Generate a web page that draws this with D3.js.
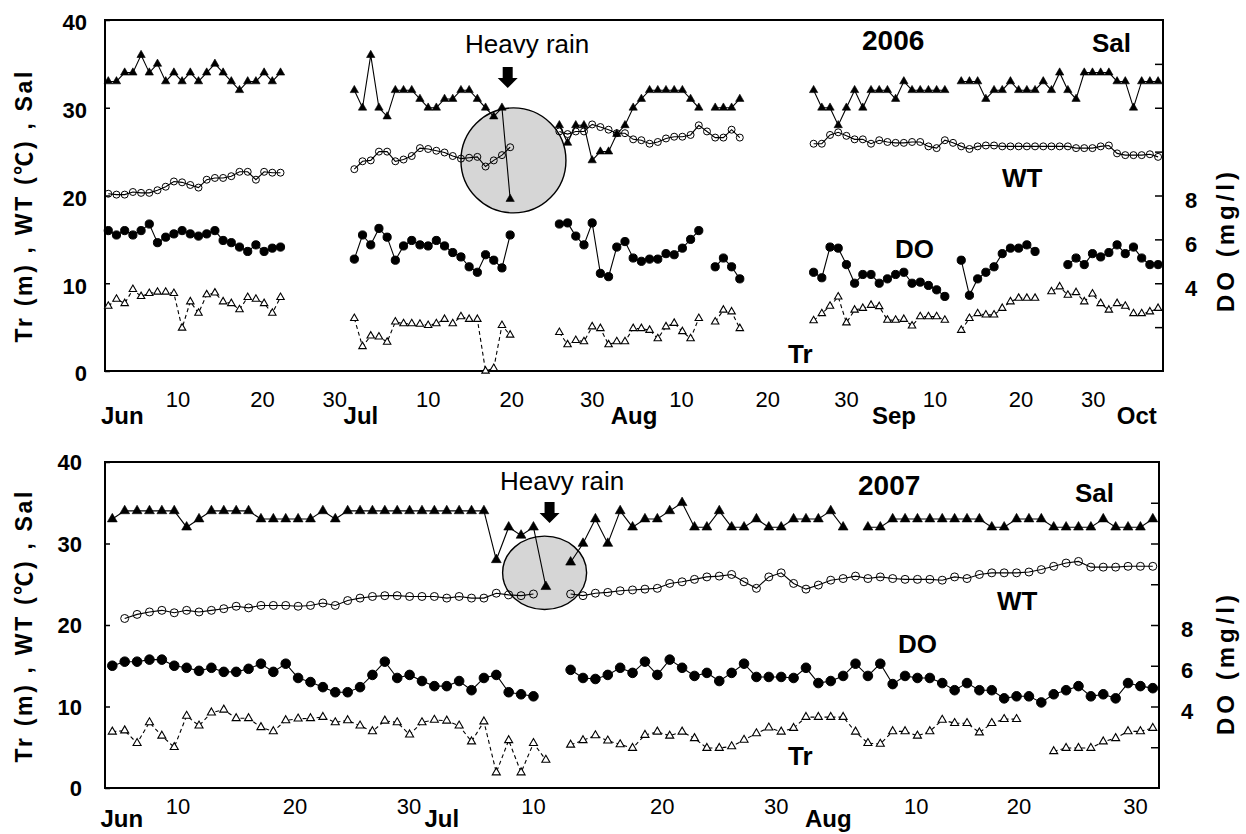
<!DOCTYPE html>
<html>
<head>
<meta charset="utf-8">
<script src="https://cdn.jsdelivr.net/npm/d3@7"></script>
<style>
  body { margin: 0; background: #fff; }
  svg { display: block; }
  text { font-family: "Liberation Sans", Arial, "Noto Sans CJK JP", sans-serif; fill: #000; }
</style>
</head>
<body>
<svg id="chart" width="1246" height="834"></svg>
<script>
// ---------- 2006 season: day index 0 = 1 June ----------
const sal2006 = [
  {from: 0,   values: [33,33,34,34,36,34,35,33,34,33,34,33,34,35,34,33,32,33,33,34,33,34]},
  {from: 30,  values: [32,30,36,30,29,32,32,32,31,30,30,31,31,32,32,31,30,29,30,19.6]},
  {from: 55,  values: [28,26,28,28,24,25,25,27,28,30,31,32,32,32,32,32,31,30]},
  {from: 74,  values: [30,30,30,31]},
  {from: 86,  values: [32,30,30,28,30,32,30,32,32,32,31,33,32,32,32,32,32]},
  {from: 104, values: [33,33,33,31,32,32,33,32,32,32,33,32,34,32,31,34,34,34,34,33,33,30,33,33,33]}
];
const wt2006 = [
  {from: 0,  values: [20.2,20.1,20.1,20.4,20.3,20.3,20.6,21.0,21.6,21.5,21.2,20.9,21.8,22.0,22.0,22.2,22.7,22.7,21.8,22.7,22.6,22.6]},
  {from: 30, values: [23.0,23.9,24.0,25.0,25.0,23.9,24.1,24.5,25.4,25.3,25.1,24.9,24.5,24.2,24.3,24.4,23.3,24.0,24.6,25.5]},
  {from: 55, values: [27.3,27.0,27.3,27.3,28.1,27.8,27.5,27.1,27.1,26.4,26.3,25.9,26.1,26.5,26.7,26.7,26.9,28.0,27.3,26.6,26.6,27.5,26.6]},
  {from: 86, values: [25.9,25.9,26.9,27.2,26.8,26.4,26.4,25.9,26.3,26.1,26.0,26.0,26.1,26.1,25.6,25.4,26.3,26.0,25.6,25.3,25.6,25.7,25.7,25.6,25.6,25.6,25.6,25.6,25.6,25.6,25.6,25.6,25.4,25.4,25.4,25.6,25.7,24.8,24.6,24.6,24.6,24.7,24.4]}
];
const do2006 = [
  {from: 0,   values: [6.4,6.2,6.4,6.2,6.4,6.7,5.85,6.1,6.25,6.4,6.25,6.15,6.25,6.4,5.95,5.85,5.65,5.45,5.75,5.45,5.6,5.65]},
  {from: 30,  values: [5.1,6.2,5.75,6.5,6.1,5.05,5.7,5.95,5.75,5.7,5.95,5.7,5.4,5.2,4.75,4.5,5.3,5.05,4.7,6.2]},
  {from: 55,  values: [6.7,6.75,6.15,5.75,6.75,4.45,4.3,5.65,5.9,5.15,5.0,5.1,5.1,5.35,5.3,5.6,6.0,6.4]},
  {from: 74,  values: [4.75,5.15,4.75,4.2]},
  {from: 86,  values: [4.5,4.25,5.65,5.6,4.85,4.0,4.4,4.4,4.0,4.2,4.4,4.5,4.0,4.05,3.9,3.7,3.4]},
  {from: 104, values: [5.05,3.45,4.2,4.5,4.75,5.35,5.6,5.6,5.75,5.45]},
  {from: 117, values: [4.85,5.15,4.85,5.35,5.2,5.4,5.75,5.35,5.65,5.15,4.85,4.85]}
];
const tr2006 = [
  {from: 0,   values: [7.4,8.2,7.7,9.3,8.5,8.85,9.0,9.0,8.85,4.9,7.9,6.6,8.7,8.9,7.9,7.7,7.0,8.4,8.2,7.7,6.6,8.4]},
  {from: 30,  values: [6.0,2.8,4.0,3.9,3.3,5.6,5.4,5.4,5.35,5.2,5.4,5.9,5.4,6.2,5.9,5.9,0,0.3,5.2,4.1]},
  {from: 55,  values: [4.4,3.0,3.5,3.35,5.05,4.85,3.0,3.35,3.35,4.85,4.85,4.65,3.7,5.05,5.45,4.5,3.7,6.0]},
  {from: 74,  values: [5.6,6.95,6.75,4.85]},
  {from: 86,  values: [5.75,6.55,7.4,8.45,5.5,6.95,7.15,7.5,7.35,5.8,5.8,5.9,5.15,6.2,6.2,6.2,5.8]},
  {from: 104, values: [4.65,6.0,6.55,6.4,6.4,7.15,7.9,8.3,8.3,8.3]},
  {from: 115, values: [9.05,9.6,8.65,8.95,7.9,8.8,7.7,6.95,7.7,7.4,6.55,6.55,6.75,7.15]}
];
const dayTicks2006  = [8.5, 18.8, 27.6, 39, 49.2, 59, 69.9, 80.4, 90, 100.8, 111.3, 120.1];
const dayLabels2006 = ["10","20","30","10","20","30","10","20","30","10","20","30"];
const monthTicks2006  = [1.7, 30.8, 64.1, 95.8, 125.4];
const monthLabels2006 = ["Jun","Jul","Aug","Sep","Oct"];

// ---------- 2007 season: consecutive sampling days ----------
const sal2007 = [
  {from: 0,  values: [33,34,34,34,34,34,32,33,34,34,34,34,33,33,33,33,33,34,33,34,34,34,34,34,34,34,34,34,34,34,34,28,32,31,32,24.7]},
  {from: 37, values: [27.7,30,33,30,34,32,33,33,34,35,32,32,34,32,32,33,32,32,33,33,33,34,32]},
  {from: 61, values: [32,32,33,33,33,33,33,33,33,33,32,32,33,33,33,32,32,32,32,33,32,32,32,33]}
];
const wt2007 = [
  {from: 1,  values: [20.8,21.3,21.6,21.8,21.5,21.8,21.6,21.8,22.0,22.3,22.1,22.4,22.4,22.4,22.3,22.4,22.7,22.4,23.0,23.3,23.5,23.6,23.6,23.5,23.5,23.5,23.3,23.5,23.3,23.3,23.9,23.7,23.6,23.8]},
  {from: 37, values: [23.8,23.6,23.9,24.0,24.2,24.3,24.4,24.5,25.1,25.3,25.6,25.9,26.0,26.2,25.3,24.5,25.9,26.4,25.1,24.4,24.9,25.5,25.7,26.0,25.7,25.9,25.7,25.6,25.6,25.6,25.5,25.9,25.7,26.2,26.4,26.4,26.4,26.5,26.8,27.2,27.6,27.8,27.1,27.1,27.1,27.2,27.2,27.2]}
];
const do2007 = [
  {from: 0,  values: [6.0,6.2,6.2,6.3,6.3,6.0,5.9,5.75,5.9,5.7,5.7,5.85,6.1,5.7,6.1,5.4,5.2,4.95,4.7,4.7,4.95,5.55,6.2,5.4,5.55,5.25,5.0,5.0,5.25,4.8,5.4,5.55,4.7,4.6,4.5]},
  {from: 37, values: [5.8,5.4,5.35,5.55,5.9,5.65,6.2,5.55,6.3,5.9,5.5,5.65,5.25,5.65,6.1,5.45,5.45,5.45,5.4,5.9,5.15,5.25,5.5,6.1,5.5,6.1,5.1,5.5,5.4,5.4,5.15,4.8,5.15,4.8,4.8,4.4,4.5,4.5,4.2,4.6,4.8,5.0,4.5,4.6,4.4,5.15,5.0,4.9]}
];
const tr2007 = [
  {from: 0,  values: [6.9,7.05,5.5,8.05,6.4,5.0,8.85,7.65,9.25,9.6,8.55,8.55,7.45,6.95,8.3,8.5,8.55,8.7,8.05,8.3,7.65,6.95,8.25,8.05,6.55,8.05,8.35,8.25,7.65,5.7,8.15,1.9,5.85,1.9,5.5,3.45]},
  {from: 37, values: [5.3,5.85,6.45,5.8,5.35,4.9,6.5,6.9,6.4,6.9,6.1,4.9,4.9,5.1,5.9,6.7,7.4,6.9,7.35,8.7,8.7,8.7,8.7,6.9,5.5,5.4,6.95,6.95,6.4,6.95,8.35,7.95,7.95,6.8,7.95,8.45,8.45]},
  {from: 76, values: [4.5,4.9,4.9,4.9,5.7,6.1,6.95,6.95,7.35]}
];
const dayTicks2007  = [5.3, 14.75, 23.95, 34, 44.4, 53.6, 64.9, 73.2, 82.6];
const dayLabels2007 = ["10","20","30","10","20","30","10","20","30"];
const monthTicks2007  = [0.76, 26.6, 57.8];
const monthLabels2007 = ["Jun","Jul","Aug"];

// shared axis values
const leftTicks = [0, 10, 20, 30, 40];
const doTicks = [2, 4, 6, 8, 10, 12, 14];
const doLabelled = [4, 6, 8];

// ---------- layout ----------
const panels = [
  {
    year: "2006",
    box: {left: 105, right: 1163, top: 20, bottom: 371},
    xDomain: [-0.4, 128.6],
    sal: sal2006, wt: wt2006, dox: do2006, tr: tr2006,
    dayTicks: dayTicks2006, dayLabels: dayLabels2006,
    monthTicks: monthTicks2006, monthLabels: monthLabels2006,
    dayBase: 36, monthBase: 53,
    leftPad: 18, leftDy: 2, rightPad: 22,
    mark: {tri: 30, triOpen: 24, wtR: 3.5, doR: 4.1},
    rain: {cx: 49.4, cy: 24.0, rx: 52.5, ry: 52.5, arrowAt: 48.7, arrowTop: 67, textX: 465, textY: 53},
    yearPos: [862, 50], salPos: [1092, 52], wtPos: [1002, 187], doPos: [895, 258], trPos: [788, 363],
    leftTitleY: 207, rightTitleY: 242
  },
  {
    year: "2007",
    box: {left: 105, right: 1159, top: 462, bottom: 788},
    xDomain: [-0.59, 84.5],
    sal: sal2007, wt: wt2007, dox: do2007, tr: tr2007,
    dayTicks: dayTicks2007, dayLabels: dayLabels2007,
    monthTicks: monthTicks2007, monthLabels: monthLabels2007,
    dayBase: 26, monthBase: 39,
    leftPad: 23, leftDy: 0, rightPad: 22,
    mark: {tri: 42, triOpen: 28, wtR: 4, doR: 4.8},
    rain: {cx: 34.9, cy: 26.4, rx: 42, ry: 36.7, arrowAt: 35.3, arrowTop: 502, textX: 500, textY: 490},
    yearPos: [858, 495], salPos: [1075, 502], wtPos: [997, 610], doPos: [898, 653], trPos: [788, 765],
    leftTitleY: 627, rightTitleY: 665
  }
];

const svg = d3.select("#chart");

function expand(runs) {
  return runs.map(r => r.values.map((v, k) => ({i: r.from + k, v})));
}

function drawPanel(p) {
  const g = svg.append("g");
  const b = p.box;
  const x = d3.scaleLinear().domain(p.xDomain).range([b.left, b.right]);
  const y = d3.scaleLinear().domain([0, 40]).range([b.bottom, b.top]);
  const yDO = d3.scaleLinear().domain([0, 16]).range([b.bottom, b.top]);

  // heavy-rain highlight
  g.append("ellipse")
    .attr("cx", x(p.rain.cx)).attr("cy", y(p.rain.cy))
    .attr("rx", p.rain.rx).attr("ry", p.rain.ry)
    .attr("fill", "#d6d6d6").attr("stroke", "#000").attr("stroke-width", 1.4);

  // left axis
  const la = g.append("g").attr("transform", `translate(${b.left},0)`)
    .call(d3.axisLeft(y).tickValues(leftTicks).tickSizeInner(-5).tickSizeOuter(0).tickPadding(p.leftPad));
  la.select(".domain").remove();
  la.selectAll("line").attr("stroke", "#000").attr("stroke-width", 1.5);
  la.selectAll("text").attr("font-size", 22).attr("font-weight", "bold")
    .attr("font-family", "'Liberation Sans', Arial, sans-serif")
    .attr("dy", "0.36em").attr("y", p.leftDy);

  // right DO axis
  const ra = g.append("g").attr("transform", `translate(${b.right},0)`)
    .call(d3.axisRight(yDO).tickValues(doTicks).tickSizeInner(-8).tickSizeOuter(0)
      .tickPadding(p.rightPad).tickFormat(d => doLabelled.includes(d) ? d : ""));
  ra.select(".domain").remove();
  ra.selectAll("line").attr("stroke", "#000").attr("stroke-width", 1.5);
  ra.selectAll("text").attr("font-size", 22).attr("font-weight", "bold")
    .attr("font-family", "'Liberation Sans', Arial, sans-serif")
    .attr("dy", "0.36em").attr("y", 4);

  // frame
  g.append("rect").attr("x", b.left).attr("y", b.top)
    .attr("width", b.right - b.left).attr("height", b.bottom - b.top)
    .attr("fill", "none").attr("stroke", "#000").attr("stroke-width", 2);

  // date labels
  g.append("g").selectAll("text").data(p.dayTicks).join("text")
    .attr("x", d => x(d)).attr("y", b.bottom + p.dayBase)
    .attr("text-anchor", "middle").attr("font-size", 22)
    .text((d, k) => p.dayLabels[k]);
  g.append("g").selectAll("text").data(p.monthTicks).join("text")
    .attr("x", d => x(d)).attr("y", b.bottom + p.monthBase)
    .attr("text-anchor", "middle").attr("font-size", 24).attr("font-weight", "bold")
    .text((d, k) => p.monthLabels[k]);

  const series = [
    {runs: p.tr,  scale: y,   dash: "4,3", marker: "triOpen"},
    {runs: p.wt,  scale: y,   dash: null,  marker: "circleOpen"},
    {runs: p.dox, scale: yDO, dash: null,  marker: "circle"},
    {runs: p.sal, scale: y,   dash: null,  marker: "tri"}
  ];

  series.forEach(s => {
    const segs = expand(s.runs);
    const line = d3.line().x(d => x(d.i)).y(d => s.scale(d.v));
    g.append("g").selectAll("path").data(segs).join("path")
      .attr("d", line).attr("fill", "none").attr("stroke", "#000")
      .attr("stroke-width", 1.1)
      .attr("stroke-dasharray", s.dash);
    const pts = segs.flat();
    const mg = g.append("g");
    if (s.marker === "tri" || s.marker === "triOpen") {
      const sym = d3.symbol().type(d3.symbolTriangle).size(p.mark[s.marker]);
      mg.selectAll("path").data(pts).join("path")
        .attr("d", sym)
        .attr("transform", d => `translate(${x(d.i)},${s.scale(d.v)})`)
        .attr("fill", s.marker === "tri" ? "#000" : "#fff")
        .attr("stroke", "#000").attr("stroke-width", s.marker === "tri" ? 0.6 : 1.1);
    } else {
      mg.selectAll("circle").data(pts).join("circle")
        .attr("cx", d => x(d.i)).attr("cy", d => s.scale(d.v))
        .attr("r", s.marker === "circle" ? p.mark.doR : p.mark.wtR)
        .attr("fill", s.marker === "circle" ? "#000" : "none")
        .attr("stroke", "#000").attr("stroke-width", 1);
    }
  });

  // heavy-rain arrow and note
  const ax = x(p.rain.arrowAt), at = p.rain.arrowTop;
  g.append("path")
    .attr("d", `M${ax - 5},${at} L${ax + 5},${at} L${ax + 5},${at + 11} L${ax + 10},${at + 11} L${ax},${at + 21} L${ax - 10},${at + 11} L${ax - 5},${at + 11} Z`)
    .attr("fill", "#000");
  g.append("text").attr("x", p.rain.textX).attr("y", p.rain.textY)
    .attr("font-size", 26).text("Heavy rain");

  // in-plot labels
  const bold = (pos, txt, size) => g.append("text").attr("x", pos[0]).attr("y", pos[1])
    .attr("font-size", size).attr("font-weight", "bold").text(txt);
  bold(p.yearPos, p.year, 28);
  bold(p.salPos, "Sal", 26);
  bold(p.wtPos, "WT", 26);
  bold(p.doPos, "DO", 26);
  bold(p.trPos, "Tr", 26);

  // axis titles
  g.append("text").attr("transform", `translate(32,${p.leftTitleY}) rotate(-90)`)
    .attr("text-anchor", "middle").attr("font-size", 23).attr("font-weight", "bold")
    .attr("textLength", 271).attr("lengthAdjust", "spacing")
    .text("Tr (m) , WT (℃) , Sal");
  g.append("text").attr("transform", `translate(1234,${p.rightTitleY}) rotate(-90)`)
    .attr("text-anchor", "middle").attr("font-size", 24).attr("font-weight", "bold")
    .attr("textLength", 140).attr("lengthAdjust", "spacing")
    .text("DO (mg/l)");
}

panels.forEach(drawPanel);
</script>
</body>
</html>
